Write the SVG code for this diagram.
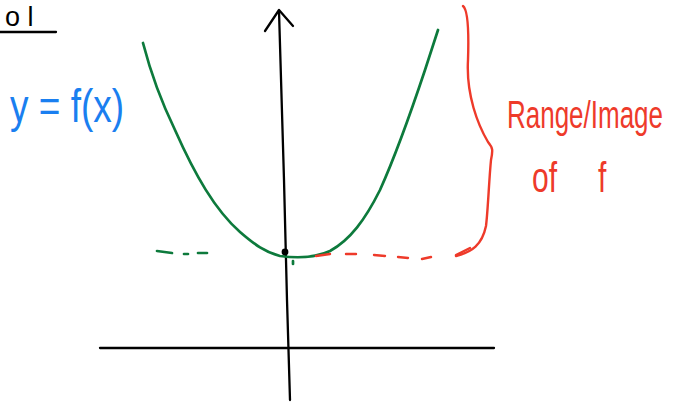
<svg xmlns="http://www.w3.org/2000/svg" width="683" height="402" viewBox="0 0 683 402">
<style>
.ink{fill:none;stroke-linecap:round;stroke-linejoin:round}
.blk{stroke:#000;stroke-width:2.3}
.grn{stroke:#0d7a3c;stroke-width:2.7}
.red{stroke:#ee3a2a;stroke-width:2.4}
.lbl{font-family:"Liberation Sans","DejaVu Sans",sans-serif}
</style>
<rect width="683" height="402" fill="#fff"/>
<g id="heading">
<text class="lbl" x="5" y="26" font-size="27" fill="#000">o l</text>
<path class="ink blk" d="M0 32 L56 32"/>
</g>
<g id="axes">
<path class="ink blk" d="M100 348 L494 348"/>
<path class="ink blk" d="M279 11 L284 180 L287 300 L290 400"/>
<path class="ink blk" d="M265 31 L279 10 L293 26"/>
</g>
<g id="curve">
<path class="ink grn" d="M143 43 C150 70 158 95 175 130 C195 175 215 210 240 232 C255 245 265 252 280 256 C295 258 315 258 330 251 C350 240 365 220 380 190 C398 150 415 100 425 70 C430 55 434 42 438 30"/>
<path class="ink grn" d="M157 251 L172 253 M184 254 L188 254 M198 253 L207 253"/>
<path class="ink grn" d="M293 261 L293 264"/>
<circle cx="285" cy="252" r="3.4" fill="#000"/>
</g>
<g id="range-dashes">
<path class="ink red" d="M316 256 L330 254 M346 254 L356 254 M374 255 L385 256 M398 257 L408 258 M422 259 L431 257 M456 255 L470 248"/>
</g>
<g id="brace">
<path class="ink red" d="M463 6 C468 10 469 30 468 60 C466 95 478 125 488 142 C493 148 493 150 491 160 C489 180 488 210 486 226 C482 245 472 252 456 256"/>
</g>
<g id="label-f">
<text class="lbl" transform="translate(10,122) scale(1,1.25)" font-size="37" fill="#1a7ff0">y = f(x)</text>
</g>
<g id="label-range">
<text class="lbl" transform="translate(507,128) scale(1,1.5)" font-size="26" fill="#ee3a2a">Range/Image</text>
<text class="lbl" transform="translate(532,192) scale(1,1.4)" font-size="30" fill="#ee3a2a">of</text>
<text class="lbl" transform="translate(598,192) scale(1,1.4)" font-size="30" fill="#ee3a2a">f</text>
</g>
</svg>
